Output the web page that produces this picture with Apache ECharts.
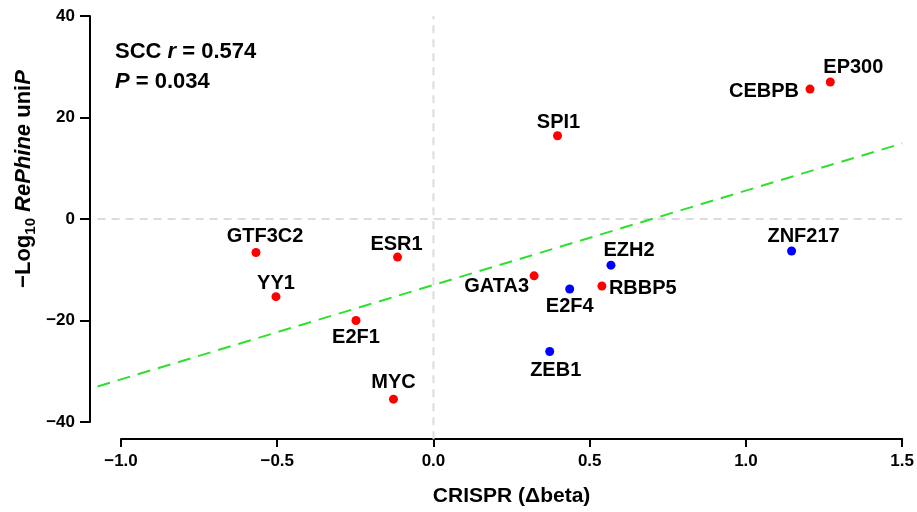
<!DOCTYPE html>
<html><head><meta charset="utf-8">
<script src="https://cdn.jsdelivr.net/npm/echarts@6/dist/echarts.min.js"></script>
<style>html,body{margin:0;padding:0;background:#fff}#c{width:917px;height:512px}</style>
</head><body><div id="c"></div>
<script>
// ---- data ----
const tfNames    = ['GTF3C2','ESR1','YY1','E2F1','MYC','SPI1','GATA3','RBBP5','CEBPB','EP300','E2F4','EZH2','ZEB1','ZNF217'];
const crisprBeta = [-0.568,-0.115,-0.504,-0.248,-0.128,0.397,0.322,0.539,1.205,1.270,0.436,0.568,0.372,1.146];
const negLogP    = [-6.6,-7.5,-15.3,-20.0,-35.5,16.4,-11.2,-13.2,25.6,27.0,-13.8,-9.1,-26.1,-6.3];
const tfGroup    = ['A','A','A','A','A','A','A','A','A','A','B','B','B','B'];
const fitX = [-1.075, 1.5];
const fitY = [-33.0, 14.9];
const xTickValues = [-1.0,-0.5,0,0.5,1.0,1.5];
const yTickValues = [-40,-20,0,20,40];
const plotRangeX = [-1.075, 1.5];
const plotRangeY = [-43.4, 40];
const sccR = '0.574';
const sccP = '0.034';

// ---- styling / layout (not data) ----
const groupColor = {A:'#FF0000', B:'#0000FF'};
const labelLayout = {
  GTF3C2:[9,-16,'center'], ESR1:[-1,-13,'center'], YY1:[0,-13,'center'], E2F1:[0,17,'center'],
  MYC:[0,-17,'center'], SPI1:[1,-13,'center'], GATA3:[-5,11,'right'], RBBP5:[7,2,'left'],
  CEBPB:[-11,2,'right'], EP300:[23,-14,'center'], E2F4:[0,17,'center'], EZH2:[18,-15,'center'],
  ZEB1:[6,19,'center'], ZNF217:[12,-14,'center']
};
const FONT = '"Liberation Sans", Arial, Helvetica, sans-serif';
const fmtMinus = s => s.replace('-', '\u2212');

function groupData(g){
  const out = [];
  tfNames.forEach((n,i)=>{
    if (tfGroup[i] !== g) return;
    const L = labelLayout[n];
    out.push({name:n, value:[crisprBeta[i], negLogP[i]],
      label:{show:true, formatter:n, position:'inside', offset:[L[0],L[1]], align:L[2], verticalAlign:'middle',
        color:'#000', opacity:1, fontFamily:FONT, fontWeight:'bold', fontSize:20}});
  });
  return out;
}

// segments: [x1,y1,x2,y2] ; styles kept separate
const refSegments = [
  [plotRangeX[0], 0, plotRangeX[1], 0],
  [0, plotRangeY[0], 0, plotRangeY[1]],
  [fitX[0], fitY[0], fitX[1], fitY[1]]
];
const segStyles = [
  {stroke:'#DCDCDC', lineWidth:2, lineDash:[8,6]},
  {stroke:'#DCDCDC', lineWidth:2, lineDash:[8,6]},
  {stroke:'#2EE02E', lineWidth:2, lineDash:[13,8]}
];

const chart = echarts.init(document.getElementById('c'), null, {renderer:'canvas'});
const minX = xTickValues[0], maxX = xTickValues[xTickValues.length-1];
const minY = yTickValues[0], maxY = yTickValues[yTickValues.length-1];

chart.setOption({
  animation:false,
  grid:{left:121, right:12, top:16, bottom:90, containLabel:false},
  xAxis:{
    type:'value', min:minX, max:maxX, interval:0.5, offset:17,
    axisLine:{show:true, onZero:false, lineStyle:{color:'#000', width:2}},
    axisTick:{show:true, length:8, inside:false, lineStyle:{color:'#000', width:2}},
    axisLabel:{show:true, margin:14, color:'#000', fontFamily:FONT, fontWeight:'bold', fontSize:17,
      formatter:v=>fmtMinus(v.toFixed(1))},
    splitLine:{show:false},
    name:'CRISPR (\u0394beta)', nameLocation:'middle', nameGap:47,
    nameTextStyle:{color:'#000', fontFamily:FONT, fontWeight:'bold', fontSize:21}
  },
  yAxis:{
    type:'value', min:minY, max:maxY, interval:20, offset:31,
    axisLine:{show:true, onZero:false, lineStyle:{color:'#000', width:2}},
    axisTick:{show:true, length:10, inside:false, lineStyle:{color:'#000', width:2}},
    axisLabel:{show:true, margin:15, color:'#000', fontFamily:FONT, fontWeight:'bold', fontSize:17,
      formatter:v=>fmtMinus(String(v))},
    splitLine:{show:false},
    nameMoveOverlap:false,
    name:'{n|\u2212Log}{s|10}{n| }{i|RePhine}{n| uni}{i|P}', nameLocation:'middle', nameGap:52,
    nameTextStyle:{color:'#000', fontFamily:FONT, fontWeight:'bold', fontSize:22, padding:[0,0,0,80],
      rich:{
        n:{fontFamily:FONT, fontWeight:'bold', fontSize:22, lineHeight:28, color:'#000'},
        i:{fontFamily:FONT, fontWeight:'bold', fontStyle:'italic', fontSize:22, lineHeight:28, color:'#000'},
        s:{fontFamily:FONT, fontWeight:'bold', fontSize:15, lineHeight:15, verticalAlign:'bottom', color:'#000'}
      }}
  },
  graphic:[{
    type:'text', left:115, top:41, silent:true,
    style:{
      text:'{b|SCC }{it|r}{b| = '+sccR+'}\n{it|P}{b| = '+sccP+'}',
      rich:{
        b:{fontFamily:FONT, fontWeight:'bold', fontSize:22, lineHeight:30, fill:'#000'},
        it:{fontFamily:FONT, fontWeight:'bold', fontStyle:'italic', fontSize:22, lineHeight:30, fill:'#000'}
      }
    }
  }],
  series:[
    {type:'custom', silent:true, clip:false, z:1,
      encode:{x:[0,2], y:[1,3]},
      data:refSegments,
      renderItem:(params, api)=>{
        const p1 = api.coord([api.value(0), api.value(1)]);
        const p2 = api.coord([api.value(2), api.value(3)]);
        return {type:'line', shape:{x1:p1[0], y1:p1[1], x2:p2[0], y2:p2[1]},
          style:Object.assign({fill:null}, segStyles[params.dataIndex])};
      }},
    {type:'scatter', name:'A', symbolSize:9, z:3, clip:false,
      itemStyle:{color:groupColor.A, opacity:1},
      data:groupData('A')},
    {type:'scatter', name:'B', symbolSize:9, z:3, clip:false,
      itemStyle:{color:groupColor.B, opacity:1},
      data:groupData('B')}
  ]
});
</script></body></html>
